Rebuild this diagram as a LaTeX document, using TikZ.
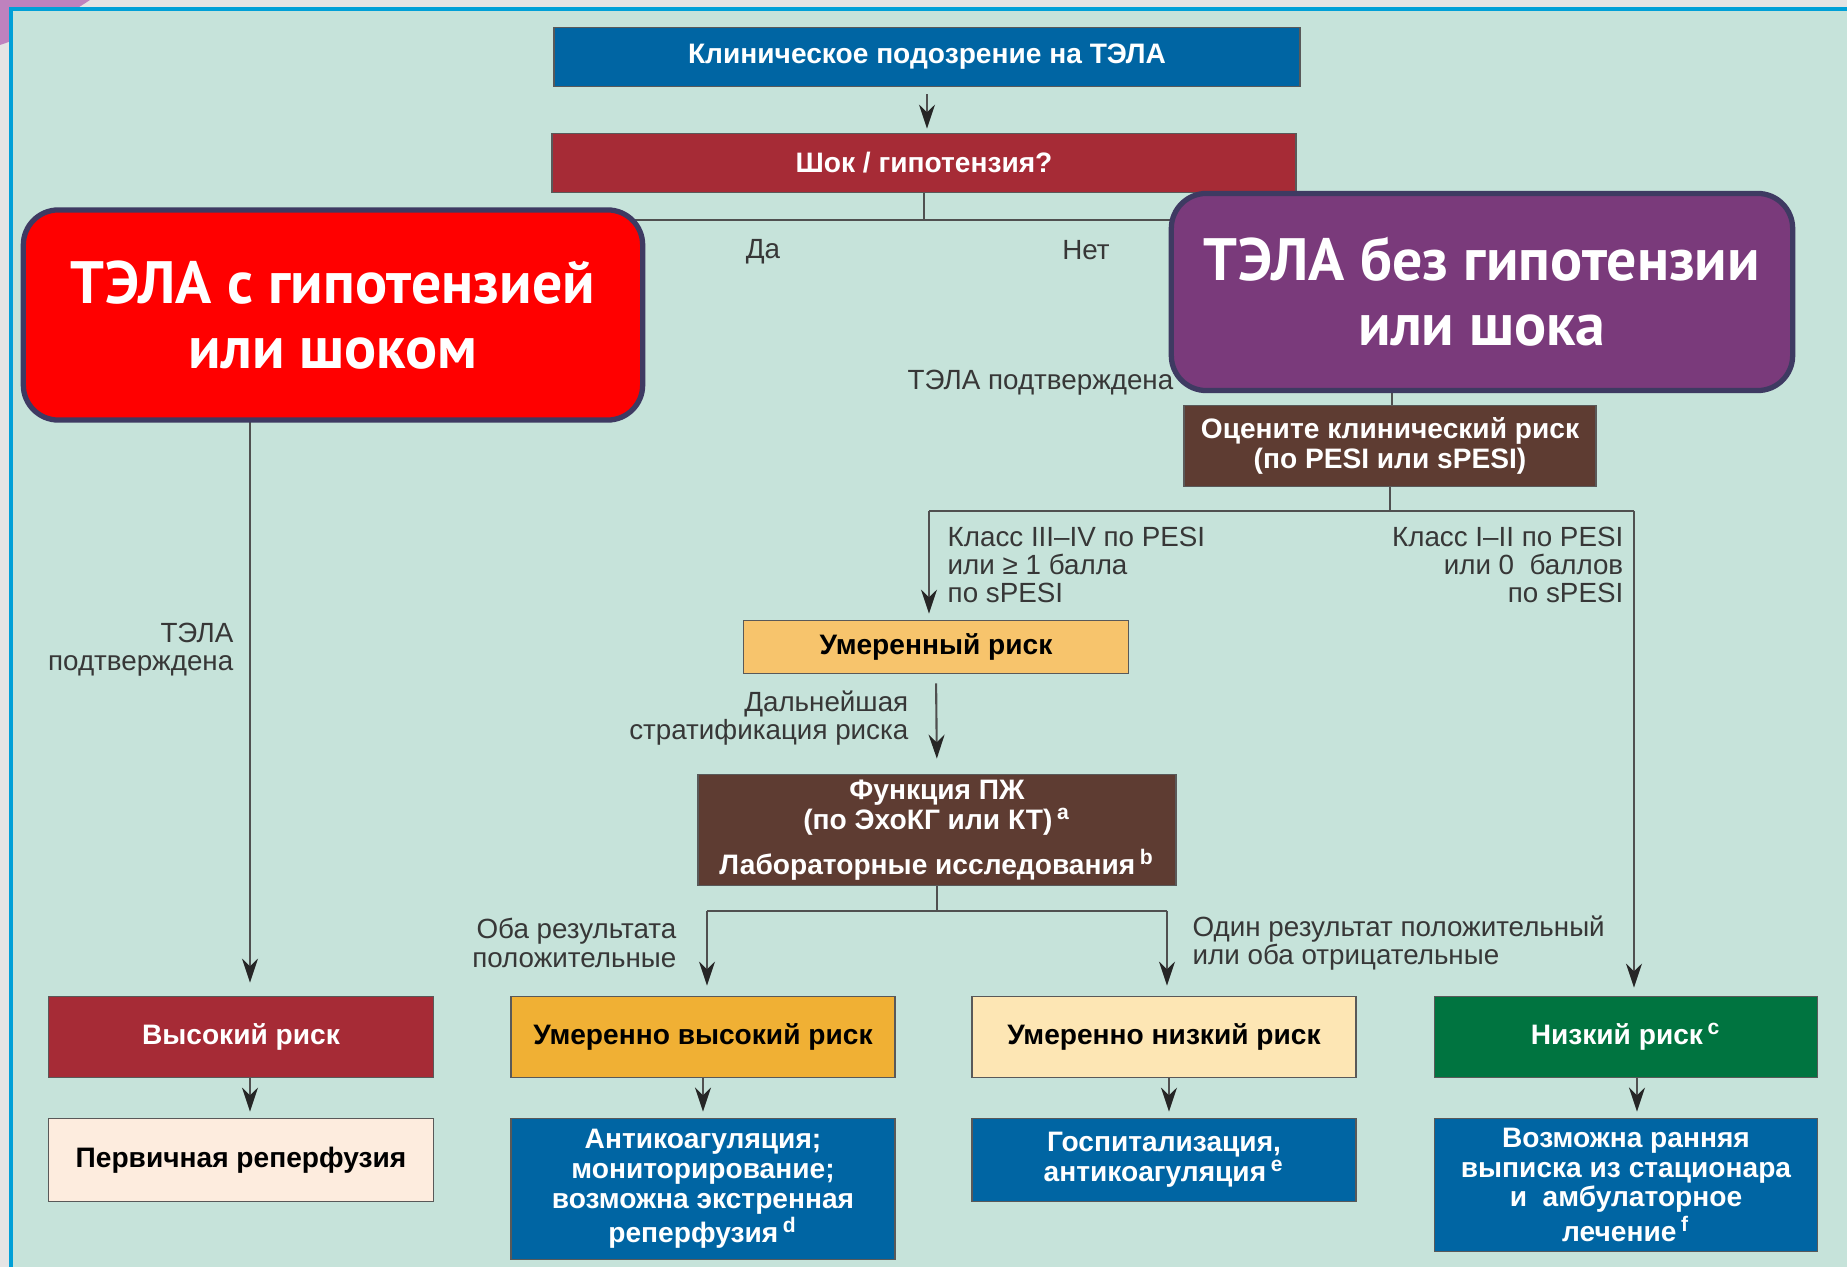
\documentclass[tikz,border=0pt]{standalone}
\usepackage{fontspec}
\setmainfont{Liberation Sans}
\newfontfamily\bigfont{PT Sans}
\usetikzlibrary{arrows.meta}

\definecolor{mint}{RGB}{198,227,218}
\definecolor{slidegray}{RGB}{228,228,228}
\definecolor{slideblue}{RGB}{0,160,215}
\definecolor{blobpurple}{RGB}{190,130,190}
\definecolor{pblue}{RGB}{0,101,163}
\definecolor{crimson}{RGB}{166,43,54}
\definecolor{brown}{RGB}{94,60,50}
\definecolor{lorange}{RGB}{247,196,108}
\definecolor{orange}{RGB}{240,176,52}
\definecolor{cream}{RGB}{253,230,180}
\definecolor{pgreen}{RGB}{0,116,64}
\definecolor{peach}{RGB}{253,236,222}
\definecolor{alarmred}{RGB}{255,0,0}
\definecolor{rimblue}{RGB}{62,58,98}
\definecolor{violet}{RGB}{122,58,123}
\definecolor{linegray}{RGB}{80,80,80}
\definecolor{labelgray}{RGB}{55,55,55}

\tikzset{
  box/.style={draw=black!65, line width=0.5pt, inner sep=0pt, align=center,
    font=\bfseries\fontsize{8}{8.4}\selectfont},
  whitebox/.style={box, text=white},
  bigbox/.style={draw=rimblue, line width=1.5pt, rounded corners=0.35cm,
    inner sep=0pt, align=center, text=white,
    font=\bigfont\bfseries\fontsize{17}{18.5}\selectfont},
  lbl/.style={inner sep=0pt, text=labelgray, font=\fontsize{7.9}{8}\selectfont},
  line/.style={draw=linegray, line width=0.6pt},
  arr/.style={line, -{Stealth[length=2.4mm,width=1.6mm,color=black!85]}}
}

\begin{document}
\begin{tikzpicture}[x=0.01cm, y=-0.01cm]
  \useasboundingbox (0,0) rectangle (1847,1267);

  % slide background
  \fill[slidegray] (0,0) rectangle (1847,1267);
  \fill[blobpurple] (0,0) -- (90,0) .. controls (60,20) and (30,35) .. (0,45) -- cycle;
  \fill[mint] (9,9) rectangle (1847,1267);
  \draw[slideblue, line width=1.3pt] (11,1267) |- (1847,9);

  % top of the chart
  \node[whitebox, fill=pblue, minimum width=7.45cm, minimum height=0.59cm] (susp) at (927,57) {Клиническое подозрение на ТЭЛА};
  \node[whitebox, fill=crimson, minimum width=7.44cm, minimum height=0.59cm] (shock) at (924,163) {Шок / гипотензия?};
  \draw[arr, shorten <=0.7mm, shorten >=0.4mm] (susp.south) -- (susp.south |- shock.north);

  \coordinate (yes) at (250,220);
  \coordinate (no) at (1392,220);
  \draw[line] (shock.south) -- (shock.south |- yes);
  \draw[line] (yes) -- (no);
  \node[lbl] (da) at (763,252) {Да};
  \node[lbl] (net) at (1086,250) {Нет};

  % branch without shock
  \node[whitebox, fill=brown, minimum width=4.12cm, minimum height=0.81cm] (assess) at (1390,446) {Оцените клинический риск\\(по PESI или sPESI)};
  \draw[line] (no) -- (no |- assess.north);
  \node[lbl, anchor=east] (conf2) at (1174,383) {ТЭЛА подтверждена};

  \coordinate (split2) at (1390,511);
  \coordinate (modin) at (929,511);
  \coordinate (lowin) at (1634,511);
  \draw[line] (assess.south) -- (split2);
  \draw[line] (modin) -- (lowin);
  \node[lbl, anchor=north west, align=left] (pesihi) at (947,526) {Класс III–IV по PESI\\или ≥ 1 балла\\по sPESI};
  \node[lbl, anchor=north east, align=right] (pesilo) at (1624,526) {Класс I–II по PESI\\или 0~ баллов\\по sPESI};

  \node[box, fill=lorange, minimum width=3.85cm, minimum height=0.53cm] (mod) at (936,647) {Умеренный риск};
  \draw[arr, shorten >=0.6mm] (modin) -- (modin |- mod.north);

  \node[whitebox, fill=brown, minimum width=4.77cm, minimum height=1.11cm] (rv) at (937,830) {Функция ПЖ\\(по ЭхоКГ или КТ)\,\textsuperscript{a}\\[3pt]Лабораторные исследования\,\textsuperscript{b}};
  \draw[arr, shorten <=0.9mm, shorten >=1.5mm] (mod.south) -- (rv.north);
  \node[lbl, anchor=east, align=right] (strat) at (909,718) {Дальнейшая\\стратификация риска};

  \coordinate (split3) at (937,911);
  \coordinate (mhin) at (707,911);
  \coordinate (mlin) at (1167,911);
  \draw[line] (rv.south) -- (split3);
  \draw[line] (mhin) -- (mlin);
  \node[lbl, anchor=east, align=right] (both) at (677,943) {Оба результата\\положительные};
  \node[lbl, anchor=west, align=left] (one) at (1192,943) {Один результат положительный\\или оба отрицательные};

  % risk classes
  \node[whitebox, fill=crimson, minimum width=3.85cm, minimum height=0.81cm] (high) at (241,1037) {Высокий риск};
  \node[box, fill=orange, minimum width=3.84cm, minimum height=0.81cm] (mh) at (703,1037) {Умеренно высокий риск};
  \node[box, fill=cream, minimum width=3.84cm, minimum height=0.81cm] (ml) at (1164,1037) {Умеренно низкий риск};
  \node[whitebox, fill=pgreen, minimum width=3.83cm, minimum height=0.81cm] (low) at (1626,1037) {Низкий риск\,\textsuperscript{c}};

  \draw[arr, shorten >=1.3mm] (yes) -- (yes |- high.north);
  \node[lbl, anchor=east, align=right] (conf1) at (234,650) {ТЭЛА\\подтверждена};
  \draw[arr, shorten >=1mm] (mhin) -- (mhin |- mh.north);
  \draw[arr, shorten >=1mm] (mlin) -- (mlin |- ml.north);
  \draw[arr, shorten >=0.8mm] (lowin) -- (lowin |- low.north);

  % management
  \node[box, fill=peach, minimum width=3.85cm, minimum height=0.83cm] (reperf) at (241,1160) {Первичная реперфузия};
  \node[whitebox, fill=pblue, minimum width=3.84cm, minimum height=1.41cm] (anticoag) at (703,1189) {Антикоагуляция;\\мониторирование;\\возможна экстренная\\реперфузия\,\textsuperscript{d}};
  \node[whitebox, fill=pblue, minimum width=3.84cm, minimum height=0.83cm] (hosp) at (1164,1160) {Госпитализация,\\антикоагуляция\,\textsuperscript{e}};
  \node[whitebox, fill=pblue, minimum width=3.83cm, minimum height=1.33cm] (disch) at (1626,1185) {Возможна ранняя\\выписка из стационара\\и~ амбулаторное\\лечение\,\textsuperscript{f}};

  \draw[arr, shorten >=0.6mm] ([xshift=0.09cm]high.south) -- ([xshift=0.09cm]high.south |- reperf.north);
  \draw[arr, shorten >=0.6mm] (mh.south) -- (anticoag.north);
  \draw[arr, shorten >=0.6mm] ([xshift=0.05cm]ml.south) -- ([xshift=0.05cm]ml.south |- hosp.north);
  \draw[arr, shorten >=0.6mm] ([xshift=0.11cm]low.south) -- ([xshift=0.11cm]low.south |- disch.north);

  % overlay boxes
  \node[bigbox, fill=alarmred, minimum width=6.19cm, minimum height=2.1cm] (withshock) at (333,315) {ТЭЛА с гипотензией\\или шоком};
  \node[bigbox, fill=violet, minimum width=6.21cm, minimum height=1.97cm] (noshock) at (1482,292) {ТЭЛА без гипотензии\\или шока};
\end{tikzpicture}
\end{document}
